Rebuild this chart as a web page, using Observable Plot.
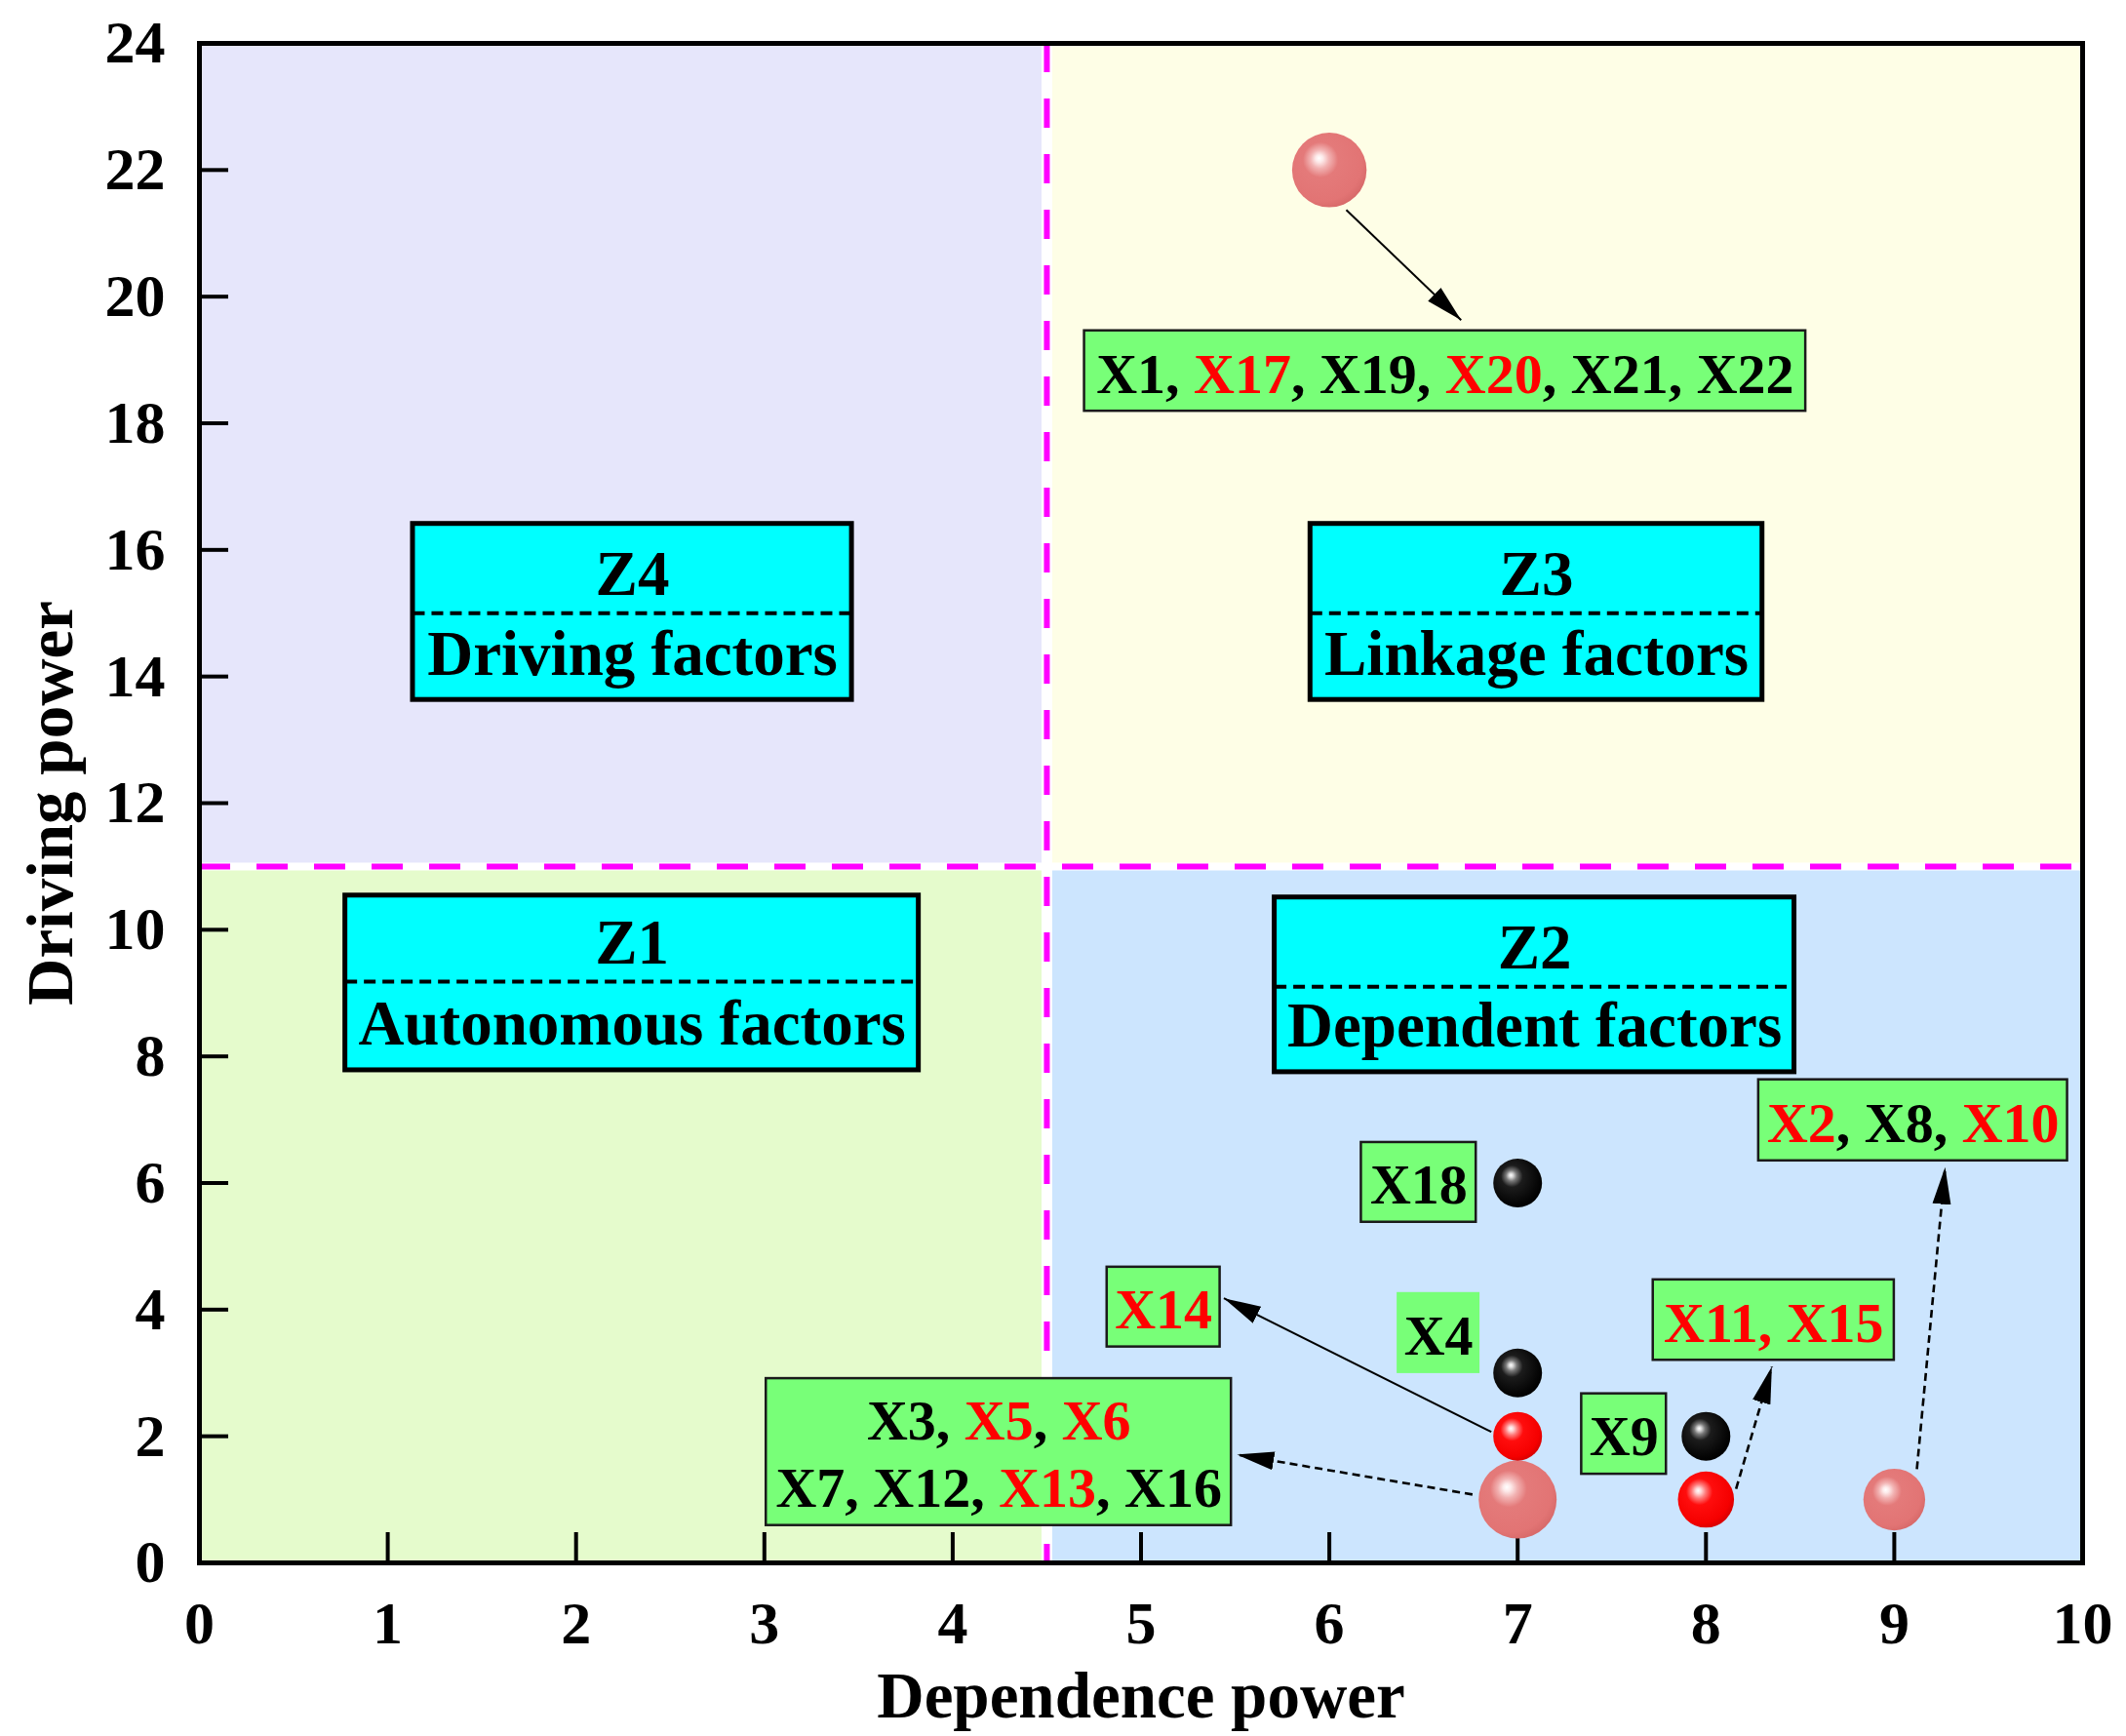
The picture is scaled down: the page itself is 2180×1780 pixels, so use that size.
<!DOCTYPE html>
<html><head><meta charset="utf-8">
<script src="https://cdn.jsdelivr.net/npm/d3@7"></script>
<script src="https://cdn.jsdelivr.net/npm/@observablehq/plot@0.6"></script>
<style>html,body{margin:0;padding:0;background:#fff;}</style>
</head><body><div id="chart"></div>
<script>
// ---------------- data ----------------
const dependencePower = [6, 7, 9, 8, 7, 7, 7, 8];
const drivingPower    = [22, 1, 1, 1, 2, 3, 6, 2];
const factorLines = [
  [["X1", "X17", "X19", "X20", "X21", "X22"]],
  [["X3", "X5", "X6"], ["X7", "X12", "X13", "X16"]],
  [["X2", "X8", "X10"]],
  [["X11", "X15"]],
  [["X14"]],
  [["X4"]],
  [["X18"]],
  [["X9"]]
];
const redFactors = ["X2", "X5", "X6", "X10", "X11", "X13", "X14", "X15", "X17", "X20"];
const xTicks = [0, 1, 2, 3, 4, 5, 6, 7, 8, 9, 10];
const yTicks = [0, 2, 4, 6, 8, 10, 12, 14, 16, 18, 20, 22, 24];
const dependenceThreshold = 4.5;
const drivingThreshold = 11;
const zoneNames  = ["Z1", "Z2", "Z3", "Z4"];
const zoneLabels = ["Autonomous factors", "Dependent factors", "Linkage factors", "Driving factors"];
const xTitle = "Dependence power";
const yTitle = "Driving power";

// ---------------- annotation layout (data units) ----------------
const zoneBoxes = [
  {x1: 0.775, x2: 3.82, y1: 7.78, y2: 10.54, yd: 9.18},
  {x1: 5.71, x2: 8.47, y1: 7.75, y2: 10.51, yd: 9.10},
  {x1: 5.90, x2: 8.30, y1: 13.63, y2: 16.41, yd: 15.0},
  {x1: 1.134, x2: 3.465, y1: 13.63, y2: 16.41, yd: 15.0}
];
const labelBoxes = [
  {x1: 4.70, x2: 8.53, y1: 18.19, y2: 19.46, border: true},
  {x1: 3.01, x2: 5.48, y1: 0.59, y2: 2.91, border: true},
  {x1: 8.28, x2: 9.92, y1: 6.35, y2: 7.63, border: true},
  {x1: 7.72, x2: 9.00, y1: 3.20, y2: 4.47, border: true},
  {x1: 4.82, x2: 5.42, y1: 3.41, y2: 4.67, border: true},
  {x1: 6.36, x2: 6.80, y1: 2.99, y2: 4.27, border: false},
  {x1: 6.17, x2: 6.78, y1: 5.38, y2: 6.64, border: true},
  {x1: 7.34, x2: 7.79, y1: 1.40, y2: 2.67, border: true}
];
const arrowLinks = [
  {x1: 6.09, y1: 21.37, x2: 6.70, y2: 19.63, dashed: false},
  {x1: 6.86, y1: 2.07, x2: 5.44, y2: 4.18, dashed: false},
  {x1: 6.76, y1: 1.08, x2: 5.51, y2: 1.71, dashed: true},
  {x1: 8.16, y1: 1.17, x2: 8.35, y2: 3.10, dashed: true},
  {x1: 9.12, y1: 1.48, x2: 9.27, y2: 6.25, dashed: true}
];

// ---------------- styles ----------------
const zoneFill = {Z1: "#E5FBCC", Z2: "#CCE5FE", Z3: "#FEFEE6", Z4: "#E6E6FB"};
const sphereFill = {pink: "url(#sph-pink)", red: "url(#sph-red)", black: "url(#sph-black)"};
const FONT = "'Liberation Serif', 'Times New Roman', Times, serif";

// ---------------- derived ----------------
const isRed = f => redFactors.includes(f);
const nodes = dependencePower.map((x, i) => {
  const all = factorLines[i].flat();
  const nr = all.filter(isRed).length;
  return {x, y: drivingPower[i], n: all.length,
          kind: nr === all.length ? "red" : nr === 0 ? "black" : "pink"};
});
function markup(lines) {
  const all = lines.flat();
  if (all.every(isRed)) return lines.map(l => "~" + l.join(", ") + "~").join("\n");
  return lines.map(l => l.map(f => isRed(f) ? `~${f}~` : f).join(", ")).join("\n");
}
const labels = labelBoxes.map((b, i) => ({...b, text: markup(factorLines[i])}));
const zones = zoneNames.map((name, i) => {
  const left = i === 0 || i === 3;
  const low = i < 2;
  return {name, label: zoneLabels[i],
    x1: left ? xTicks[0] : dependenceThreshold, x2: left ? dependenceThreshold : xTicks[xTicks.length - 1],
    y1: low ? yTicks[0] : drivingThreshold, y2: low ? drivingThreshold : yTicks[yTicks.length - 1],
    box: zoneBoxes[i]};
});

const W = 2180, H = 1780, ML = 204, MR = 45, MT = 44, MB = 178;
const PW = W - ML - MR, PH = H - MT - MB;

const chart = Plot.plot({
  width: W, height: H,
  marginLeft: ML, marginRight: MR, marginTop: MT, marginBottom: MB,
  style: {fontFamily: FONT, fontSize: "62px", fontWeight: "bold", background: "#fff", color: "#000", overflow: "visible"},
  x: {domain: [0, 10], ticks: xTicks, tickSize: 0, tickPadding: 38, label: null},
  y: {domain: [0, 24], ticks: yTicks, tickSize: 0, tickPadding: 35, label: null},
  r: {type: "sqrt", domain: [1, 7], range: [25, 40]},
  marks: [
    ...zones.map(z => Plot.rect([z], {x1: "x1", x2: "x2", y1: "y1", y2: "y2", fill: zoneFill[z.name]})),
    Plot.ruleX([dependenceThreshold], {stroke: "#fff", strokeWidth: 11}),
    Plot.ruleY([drivingThreshold], {stroke: "#fff", strokeWidth: 8}),
    Plot.ruleX([dependenceThreshold], {stroke: "#FF00FF", strokeWidth: 6, strokeDasharray: "30,27"}),
    Plot.ruleY([drivingThreshold], {stroke: "#FF00FF", strokeWidth: 6, strokeDasharray: "32,27"}),
    Plot.tickX(xTicks, {x: d => d, stroke: "#000", strokeWidth: 4, insetTop: PH - 31}),
    Plot.tickY(yTicks, {y: d => d, stroke: "#000", strokeWidth: 4, insetRight: PW - 30}),
    Plot.frame({stroke: "#000", strokeWidth: 5}),
    // zone boxes
    Plot.rect(zones, {x1: d => d.box.x1, x2: d => d.box.x2, y1: d => d.box.y1, y2: d => d.box.y2,
      fill: "#00FFFF", stroke: "#000", strokeWidth: 5}),
    Plot.link(zones, {x1: d => d.box.x1, x2: d => d.box.x2, y1: d => d.box.yd, y2: d => d.box.yd,
      stroke: "#000", strokeWidth: 4, strokeDasharray: "12,7"}),
    Plot.text(zones, {x: d => (d.box.x1 + d.box.x2) / 2, y: d => d.box.yd + 0.29, text: "name",
      lineAnchor: "bottom", fontSize: 65, fontWeight: "bold", fill: "#000"}),
    Plot.text(zones, {x: d => (d.box.x1 + d.box.x2) / 2, y: d => d.box.y1 + 0.40, text: "label",
      lineAnchor: "bottom", fontSize: 65, fontWeight: "bold", fill: "#000"}),
    // factor label boxes
    Plot.rect(labels.filter(d => d.border), {x1: "x1", x2: "x2", y1: "y1", y2: "y2",
      fill: "#78FF78", stroke: "#1a1a1a", strokeWidth: 2.5}),
    Plot.rect(labels.filter(d => !d.border), {x1: "x1", x2: "x2", y1: "y1", y2: "y2", fill: "#78FF78"}),
    Plot.text(labels, {x: d => (d.x1 + d.x2) / 2, y: d => (d.y1 + d.y2) / 2, text: "text",
      lineAnchor: "middle", lineHeight: 1.19, fontSize: 58, fontWeight: "bold", fill: "#000",
      ariaLabel: () => "factor-label"}),
    // arrows
    Plot.link(arrowLinks.filter(d => !d.dashed), {x1: "x1", y1: "y1", x2: "x2", y2: "y2",
      stroke: "#000", strokeWidth: 2, ariaLabel: () => "arrow"}),
    Plot.link(arrowLinks.filter(d => d.dashed), {x1: "x1", y1: "y1", x2: "x2", y2: "y2",
      stroke: "#000", strokeWidth: 2.6, strokeDasharray: "8,5", ariaLabel: () => "arrow"}),
    // spheres
    ...["pink", "red", "black"].map(k => Plot.dot(nodes.filter(d => d.kind === k),
      {x: "x", y: "y", r: "n", fill: sphereFill[k], stroke: "none"})),
    // axis titles
    Plot.text([xTitle], {frameAnchor: "bottom", dy: 158, text: d => d, textAnchor: "middle", lineAnchor: "bottom",
      fontSize: 67, fontWeight: "bold", fill: "#000"}),
    Plot.text([yTitle], {frameAnchor: "left", dx: -131, rotate: -90, text: d => d, textAnchor: "middle", lineAnchor: "bottom",
      fontSize: 67, fontWeight: "bold", fill: "#000"})
  ]
});

const svg = chart.tagName.toLowerCase() === "svg" ? chart : chart.querySelector("svg");
const ns = "http://www.w3.org/2000/svg";
const defs = document.createElementNS(ns, "defs");
function grad(id, stops) {
  const g = document.createElementNS(ns, "radialGradient");
  g.setAttribute("id", id);
  g.setAttribute("cx", "0.42"); g.setAttribute("cy", "0.40"); g.setAttribute("r", "0.62");
  g.setAttribute("fx", "0.36"); g.setAttribute("fy", "0.34");
  stops.forEach(([o, c]) => {
    const s = document.createElementNS(ns, "stop");
    s.setAttribute("offset", o); s.setAttribute("stop-color", c);
    g.appendChild(s);
  });
  defs.appendChild(g);
}
grad("sph-pink", [["0", "#ffffff"], ["0.08", "#fdeaea"], ["0.2", "#f2b3b3"], ["0.38", "#e47a7a"], ["0.85", "#e27474"], ["1", "#d86a6a"]]);
grad("sph-red", [["0", "#ffffff"], ["0.08", "#ffd8d8"], ["0.2", "#ff7a7a"], ["0.38", "#ff0d0d"], ["0.85", "#f50000"], ["1", "#d80000"]]);
grad("sph-black", [["0", "#ffffff"], ["0.07", "#d8d8d8"], ["0.18", "#777777"], ["0.36", "#1c1c1c"], ["0.85", "#050505"], ["1", "#000000"]]);
const marker = document.createElementNS(ns, "marker");
marker.setAttribute("id", "ahead");
marker.setAttribute("viewBox", "-10 -5 10 10");
marker.setAttribute("refX", "0"); marker.setAttribute("refY", "0");
marker.setAttribute("markerWidth", "38"); marker.setAttribute("markerHeight", "38");
marker.setAttribute("markerUnits", "userSpaceOnUse");
marker.setAttribute("orient", "auto");
const mp = document.createElementNS(ns, "path");
mp.setAttribute("d", "M-10,-2.5L0,0L-10,2.5Z");
mp.setAttribute("fill", "#000");
marker.appendChild(mp);
defs.appendChild(marker);
svg.insertBefore(defs, svg.firstChild);

svg.querySelectorAll('[aria-label="arrow"]').forEach(p => {
  p.setAttribute("marker-end", "url(#ahead)");
});
svg.querySelectorAll('text[aria-label="factor-label"]').forEach(t => {
  const tsp = Array.from(t.querySelectorAll("tspan"));
  const targets = tsp.length ? tsp : [t];
  targets.forEach(node => {
    const s = node.textContent;
    node.textContent = "";
    s.split(/(~[^~]*~)/).filter(p => p).forEach(p => {
      const sp = document.createElementNS(ns, "tspan");
      if (p.startsWith("~")) { sp.setAttribute("fill", "#FF0000"); sp.textContent = p.slice(1, -1); }
      else sp.textContent = p;
      node.appendChild(sp);
    });
  });
});
document.getElementById("chart").appendChild(chart);
</script>
</body></html>
